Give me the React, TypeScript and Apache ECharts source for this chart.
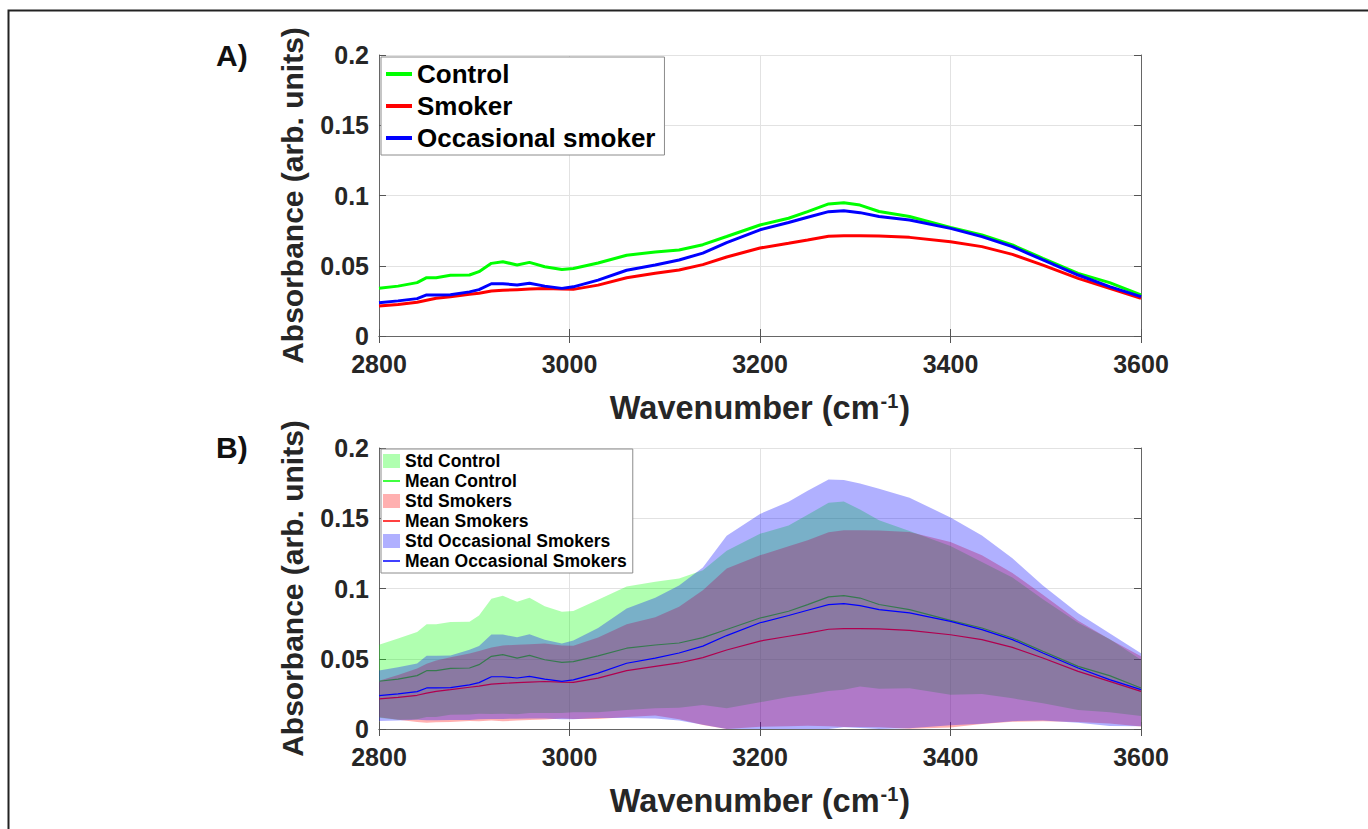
import React, { useEffect, useRef } from "react";
import * as echarts from "echarts";

// ---------------- data ----------------
const wavenumber = [
  2800, 2820, 2840, 2850, 2860, 2875, 2895, 2905, 2918, 2930, 2945, 2958, 2974, 2992, 3004, 3030, 3060, 3090,
  3115, 3140, 3165, 3200, 3230, 3250, 3272, 3288, 3305, 3325, 3357, 3400, 3433, 3465, 3497, 3534, 3567, 3600,
];

const meanControl = [
  0.034, 0.0355, 0.038, 0.0415, 0.0415, 0.0432, 0.0434, 0.0458, 0.0517, 0.0529, 0.0505, 0.0524, 0.0493, 0.0474,
  0.048, 0.052, 0.0575, 0.0598, 0.0612, 0.065, 0.0708, 0.079, 0.0838, 0.0885, 0.094, 0.0949, 0.0932, 0.0886,
  0.085, 0.0773, 0.0719, 0.0648, 0.0553, 0.0446, 0.038, 0.0292,
];

const meanSmoker = [
  0.0214, 0.0225, 0.024, 0.0255, 0.0268, 0.028, 0.0297, 0.0305, 0.032, 0.0325, 0.033, 0.0334, 0.0338, 0.0334,
  0.0332, 0.0362, 0.0415, 0.0446, 0.047, 0.0508, 0.0562, 0.0626, 0.066, 0.0683, 0.071, 0.0714, 0.0714, 0.0712,
  0.0702, 0.0671, 0.0636, 0.0581, 0.0505, 0.041, 0.0339, 0.0268,
];

const meanOccasional = [
  0.0237, 0.025, 0.0266, 0.0292, 0.0292, 0.0294, 0.0314, 0.033, 0.0372, 0.0372, 0.0363, 0.0375, 0.0355, 0.0339,
  0.035, 0.0398, 0.0468, 0.0505, 0.0541, 0.059, 0.0665, 0.0756, 0.0808, 0.0845, 0.0885, 0.0892, 0.0878, 0.085,
  0.0826, 0.0766, 0.0707, 0.0636, 0.0541, 0.0434, 0.0351, 0.028,
];

const stdControl = [
  0.026, 0.029, 0.031, 0.033, 0.033, 0.033, 0.033, 0.035, 0.041, 0.042, 0.04, 0.041, 0.038, 0.036, 0.036, 0.04,
  0.044, 0.045, 0.046, 0.048, 0.056, 0.06, 0.061, 0.064, 0.067, 0.067, 0.063, 0.06, 0.056, 0.053, 0.047, 0.043,
  0.037, 0.031, 0.026, 0.02,
];

const stdSmoker = [
  0.013, 0.016, 0.019, 0.021, 0.022, 0.023, 0.024, 0.025, 0.026, 0.027, 0.027, 0.027, 0.027, 0.026, 0.026, 0.029,
  0.033, 0.035, 0.04, 0.048, 0.058, 0.061, 0.064, 0.066, 0.069, 0.07, 0.07, 0.07, 0.07, 0.066, 0.06, 0.053, 0.045,
  0.036, 0.03, 0.025,
];

const stdOccasional = [
  0.018, 0.019, 0.02, 0.023, 0.023, 0.023, 0.025, 0.026, 0.03, 0.03, 0.029, 0.03, 0.028, 0.027, 0.028, 0.032,
  0.039, 0.043, 0.048, 0.056, 0.071, 0.0775, 0.081, 0.085, 0.089, 0.088, 0.087, 0.086, 0.082, 0.074, 0.067, 0.058,
  0.048, 0.039, 0.033, 0.026,
];

const xRange = { min: 2800, max: 3600, interval: 200 };
const yRange = { min: 0, max: 0.2, interval: 0.05 };

const legendA = ["Control", "Smoker", "Occasional smoker"];
const legendB = [
  "Std Control",
  "Mean Control",
  "Std Smokers",
  "Mean Smokers",
  "Std Occasional Smokers",
  "Mean Occasional Smokers",
];

const yTitle = "Absorbance (arb. units)";
const panelLabels = ["A)", "B)"];

// ---------------- helpers ----------------
const FONT = '"Liberation Sans", Arial, Helvetica, sans-serif';
const GREEN = "#00ff00";
const RED = "#ff0000";
const BLUE = "#0000ff";

const pairs = (ys: number[]) => wavenumber.map((x, i) => [x, ys[i]]);

// std band drawn as one polygon (mean ± std, floored at 0) through the grid's own scales
function bandSeries(name: string, mean: number[], std: number[], rgba: string, z: number) {
  const rows = wavenumber.map((x, i) => [x, Math.max(0, mean[i] - std[i]), mean[i] + std[i]]);
  return {
    type: "custom",
    name,
    xAxisIndex: 1,
    yAxisIndex: 1,
    z,
    clip: true,
    data: rows,
    encode: { x: 0, y: [1, 2] },
    itemStyle: { color: rgba },
    renderItem: (params: any, api: any) => {
      if (params.dataIndex !== 0) return null;
      const top = rows.map((r) => api.coord([r[0], r[2]]));
      const bottom = rows.map((r) => api.coord([r[0], r[1]])).reverse();
      return {
        type: "polygon",
        shape: { points: top.concat(bottom) },
        style: { fill: rgba, stroke: "none" },
      };
    },
  };
}

function meanLine(name: string, mean: number[], color: string, width: number, idx: number, z: number) {
  return {
    type: "line",
    name,
    xAxisIndex: idx,
    yAxisIndex: idx,
    z,
    data: pairs(mean),
    symbol: "none",
    lineStyle: { color, width },
    itemStyle: { color },
  };
}

const tickLabel = { fontFamily: FONT, fontWeight: "bold", fontSize: 25, lineHeight: 20, color: "#262626" };
const axisLineStyle = { lineStyle: { color: "#666666", width: 1 } };
const tickStyle = { show: true, inside: true, length: 7, lineStyle: { color: "#555" } };

function xAxisMain(gridIndex: number) {
  return {
    type: "value",
    gridIndex,
    position: "bottom",
    ...xRange,
    axisLine: { show: true, ...axisLineStyle },
    axisTick: tickStyle,
    axisLabel: { ...tickLabel, margin: 18, formatter: (v: number) => String(v) },
    splitLine: { show: true, lineStyle: { color: "#e2e2e2", width: 1 } },
    name: "Wavenumber (cm{sup|-1})",
    nameLocation: "middle",
    nameGap: 55,
    nameTextStyle: {
      fontFamily: FONT,
      fontWeight: "bold",
      fontSize: 32.5,
      color: "#262626",
      rich: {
        sup: {
          fontFamily: FONT,
          fontWeight: "bold",
          fontSize: 20,
          color: "#262626",
          verticalAlign: "top",
          padding: [0, 1, 14, 1],
        },
      },
    },
  };
}

function xAxisTop(gridIndex: number) {
  return {
    type: "value",
    gridIndex,
    position: "top",
    ...xRange,
    axisLine: { show: true, ...axisLineStyle },
    axisTick: tickStyle,
    axisLabel: { show: false },
    splitLine: { show: false },
  };
}

function yAxisMain(gridIndex: number) {
  return {
    type: "value",
    gridIndex,
    position: "left",
    ...yRange,
    axisLine: { show: true, ...axisLineStyle },
    axisTick: tickStyle,
    axisLabel: {
      ...tickLabel,
      margin: 10,
      padding: [0, 0, 4, 0],
      formatter: (v: number) => String(Math.round(v * 100) / 100),
    },
    splitLine: { show: true, lineStyle: { color: "#e2e2e2", width: 1 } },
    name: yTitle,
    nameLocation: "middle",
    nameGap: 72,
    nameTextStyle: { fontFamily: FONT, fontWeight: "bold", fontSize: 30, color: "#262626" },
  };
}

function yAxisRight(gridIndex: number) {
  return {
    type: "value",
    gridIndex,
    position: "right",
    ...yRange,
    axisLine: { show: true, ...axisLineStyle },
    axisTick: tickStyle,
    axisLabel: { show: false },
    splitLine: { show: false },
  };
}

const linePath = (w: number, h: number) => `path://M0,0h${w}v${h}h-${w}z`;

export default function App() {
  const ref = useRef<HTMLDivElement>(null);

  useEffect(() => {
    if (!ref.current) return;
    const chart = echarts.init(ref.current, null, { renderer: "svg" });

    const seriesA = [
      meanLine(legendA[0], meanControl, GREEN, 3, 0, 2),
      meanLine(legendA[1], meanSmoker, RED, 3, 0, 3),
      meanLine(legendA[2], meanOccasional, BLUE, 3, 0, 4),
    ];

    // drawn in this order, each on top of the previous (as in the original figure)
    const seriesB = [
      bandSeries(legendB[0], meanControl, stdControl, "rgba(0,255,0,0.31)", 2),
      meanLine(legendB[1], meanControl, GREEN, 1.2, 1, 3),
      bandSeries(legendB[2], meanSmoker, stdSmoker, "rgba(255,0,0,0.31)", 4),
      meanLine(legendB[3], meanSmoker, RED, 1.2, 1, 5),
      bandSeries(legendB[4], meanOccasional, stdOccasional, "rgba(0,0,255,0.31)", 6),
      meanLine(legendB[5], meanOccasional, BLUE, 1.2, 1, 7),
    ];

    const legendText = (size: number) => ({ fontFamily: FONT, fontWeight: "bold", fontSize: size, color: "#000" });

    chart.setOption({
      animation: false,
      backgroundColor: "#ffffff",
      grid: [
        { left: 379, top: 55, width: 762, height: 281, containLabel: false },
        { left: 379, top: 448, width: 762, height: 281, containLabel: false },
      ],
      xAxis: [xAxisMain(0), xAxisMain(1), xAxisTop(0), xAxisTop(1)],
      yAxis: [yAxisMain(0), yAxisMain(1), yAxisRight(0), yAxisRight(1)],
      legend: [
        {
          data: legendA.map((n) => ({ name: n, icon: linePath(26, 4) })),
          orient: "vertical",
          z: 20,
          left: 381,
          top: 57,
          itemWidth: 26,
          itemHeight: 26,
          itemGap: 6,
          padding: [4, 9, 4, 5],
          borderColor: "#8c8c8c",
          borderWidth: 1,
          backgroundColor: "#ffffff",
          selectedMode: false,
          textStyle: legendText(26),
        },
        {
          data: legendB.map((n, i) => ({ name: n, icon: i % 2 === 0 ? "rect" : linePath(17, 1.5) })),
          orient: "vertical",
          z: 20,
          left: 381,
          top: 449,
          itemWidth: 17,
          itemHeight: 14,
          itemGap: 2,
          padding: [3, 6, 3, 2],
          borderColor: "#8c8c8c",
          borderWidth: 1,
          backgroundColor: "#ffffff",
          selectedMode: false,
          textStyle: legendText(17.5),
        },
      ],
      graphic: [
        {
          type: "polyline",
          silent: true,
          shape: { points: [[8.5, 829], [8.5, 10.5], [1368, 10.5]] },
          style: { stroke: "#222222", lineWidth: 2, fill: "none" },
        },
        {
          type: "text",
          left: 216,
          top: 40,
          style: { text: panelLabels[0], fontFamily: FONT, fontWeight: "bold", fontSize: 30, fill: "#111" },
        },
        {
          type: "text",
          left: 216,
          top: 432,
          style: { text: panelLabels[1], fontFamily: FONT, fontWeight: "bold", fontSize: 30, fill: "#111" },
        },
      ],
      series: [...seriesA, ...seriesB],
    });

    return () => chart.dispose();
  }, []);

  return (
    <div
      ref={ref}
      style={{ position: "fixed", left: 0, top: 0, width: 1368, height: 829, background: "#fff" }}
    />
  );
}
